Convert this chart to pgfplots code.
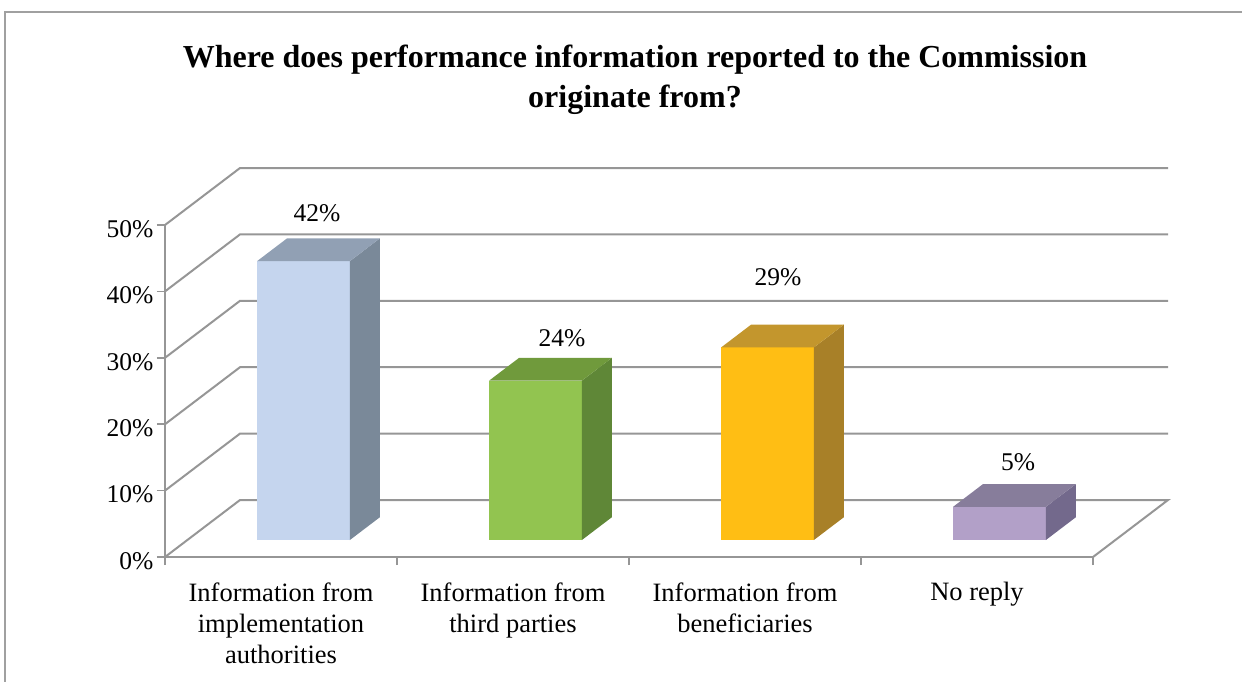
\documentclass[border=0pt]{standalone}
\usepackage{fontspec}
\setmainfont{Liberation Serif}
\usepackage{pgfplots}
\pgfplotsset{compat=1.18}
\definecolor{framegray}{RGB}{160,160,160}
\definecolor{gridgray}{RGB}{150,150,150}
\definecolor{bfront}{RGB}{197,213,238}
\definecolor{btop}{RGB}{145,160,180}
\definecolor{bside}{RGB}{122,137,153}
\definecolor{gfront}{RGB}{146,196,80}
\definecolor{gtop}{RGB}{112,154,60}
\definecolor{gside}{RGB}{95,135,55}
\definecolor{yfront}{RGB}{255,190,20}
\definecolor{ytop}{RGB}{195,150,45}
\definecolor{yside}{RGB}{168,128,40}
\definecolor{pfront}{RGB}{178,160,200}
\definecolor{ptop}{RGB}{135,125,155}
\definecolor{pside}{RGB}{115,105,140}
\begin{document}
\begin{tikzpicture}
\useasboundingbox (0pt,0pt) rectangle (1242pt,-682pt);
\draw[framegray, line width=2pt] (5pt,-682pt) -- (5pt,-12pt) -- (1242pt,-12pt);
\node[font=\bfseries\fontsize{32}{40}\selectfont, align=center] at (635pt,-80pt)
  {Where does performance information reported to the Commission\\originate from?};
\begin{axis}[
  at={(165pt,-557pt)}, anchor=south west,
  scale only axis, width=928pt, height=332pt,
  xmin=-0.5, xmax=3.5, ymin=0, ymax=50,
  enlargelimits=false, clip=false,
  axis x line*=bottom, axis y line*=left,
  axis line style={gridgray, line width=2pt},
  ytick={0,10,20,30,40,50},
  yticklabels={0\%,10\%,20\%,30\%,40\%,50\%},
  yticklabel style={yshift=-4pt},
  xtick={-0.5,0.5,1.5,2.5,3.5}, xticklabels={},
  extra x ticks={0,1,2,3},
  extra x tick labels={{Information from\\implementation\\authorities},{Information from\\third parties},{Information from\\beneficiaries},{No reply}},
  extra x tick style={grid=none, major tick length=0pt,
     tick label style={align=center, anchor=north, yshift=-22pt, font=\fontsize{26.5}{31}\selectfont}},
  tick align=outside, major tick length=8pt,
  tick style={gridgray, line width=1.5pt},
  ticklabel style={font=\fontsize{25.5}{31}\selectfont},
]
\draw[gridgray, line width=2pt] (axis cs:-0.5,0) -- (axis cs:-0.1767,8.584) -- (axis cs:3.8233,8.584) -- (axis cs:3.5,0);
\draw[gridgray, line width=2pt] (axis cs:-0.5,10) -- (axis cs:-0.1767,18.584) -- (axis cs:3.8233,18.584);
\draw[gridgray, line width=2pt] (axis cs:-0.5,20) -- (axis cs:-0.1767,28.584) -- (axis cs:3.8233,28.584);
\draw[gridgray, line width=2pt] (axis cs:-0.5,30) -- (axis cs:-0.1767,38.584) -- (axis cs:3.8233,38.584);
\draw[gridgray, line width=2pt] (axis cs:-0.5,40) -- (axis cs:-0.1767,48.584) -- (axis cs:3.8233,48.584);
\draw[gridgray, line width=2pt] (axis cs:-0.5,50) -- (axis cs:-0.1767,58.584) -- (axis cs:3.8233,58.584);
\end{axis}
\begin{axis}[
  at={(165pt,-540pt)}, anchor=south west,
  scale only axis, width=928pt, height=332pt,
  xmin=-0.597, xmax=3.403, ymin=0, ymax=50,
  enlargelimits=false, clip=false, axis lines=none,
]
% front faces (values)
\addplot[ybar, bar width=0.4, bar shift=0pt, fill=bfront, draw=none] coordinates {(0,42)};
\addplot[ybar, bar width=0.4, bar shift=0pt, fill=gfront, draw=none] coordinates {(1,24)};
\addplot[ybar, bar width=0.4, bar shift=0pt, fill=yfront, draw=none] coordinates {(2,29)};
\addplot[ybar, bar width=0.4, bar shift=0pt, fill=pfront, draw=none] coordinates {(3,5)};
% side faces
\addplot[fill=bside, draw=none] coordinates {(0.2,0) (0.2,42) (0.3293,45.434) (0.3293,3.434)} -- cycle;
\addplot[fill=gside, draw=none] coordinates {(1.2,0) (1.2,24) (1.3293,27.434) (1.3293,3.434)} -- cycle;
\addplot[fill=yside, draw=none] coordinates {(2.2,0) (2.2,29) (2.3293,32.434) (2.3293,3.434)} -- cycle;
\addplot[fill=pside, draw=none] coordinates {(3.2,0) (3.2,5) (3.3293,8.434) (3.3293,3.434)} -- cycle;
% top faces
\addplot[fill=btop, draw=none] coordinates {(-0.2,42) (0.2,42) (0.3293,45.434) (-0.0707,45.434)} -- cycle;
\addplot[fill=gtop, draw=none] coordinates {(0.8,24) (1.2,24) (1.3293,27.434) (0.9293,27.434)} -- cycle;
\addplot[fill=ytop, draw=none] coordinates {(1.8,29) (2.2,29) (2.3293,32.434) (1.9293,32.434)} -- cycle;
\addplot[fill=ptop, draw=none] coordinates {(2.8,5) (3.2,5) (3.3293,8.434) (2.9293,8.434)} -- cycle;
% data labels
\node[font=\fontsize{25.5}{31}\selectfont] at (axis cs:0.058,49.2) {42\%};
\node[font=\fontsize{25.5}{31}\selectfont] at (axis cs:1.114,30.4) {24\%};
\node[font=\fontsize{25.5}{31}\selectfont] at (axis cs:2.045,39.6) {29\%};
\node[font=\fontsize{25.5}{31}\selectfont] at (axis cs:3.080,11.7) {5\%};
\end{axis}
\end{tikzpicture}
\end{document}
